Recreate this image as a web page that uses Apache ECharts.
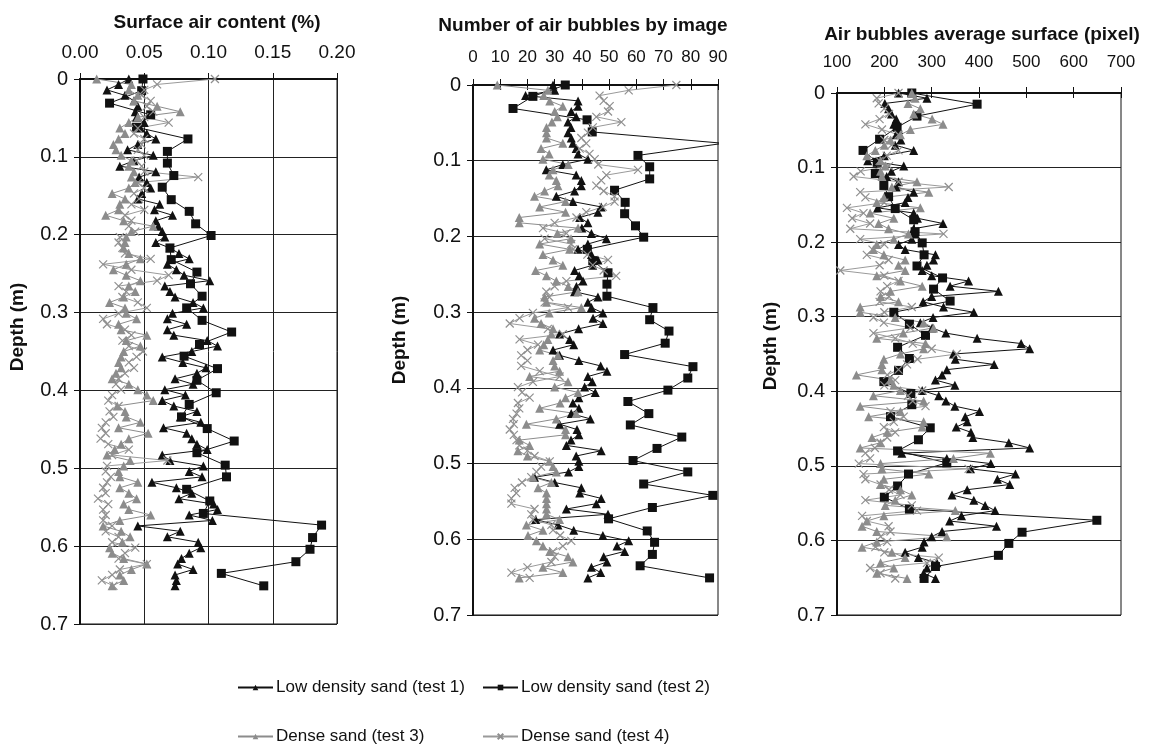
<!DOCTYPE html>
<html>
<head>
<meta charset="utf-8">
<script src="https://cdn.jsdelivr.net/npm/echarts/dist/echarts.min.js"></script>
<style>
  html, body { margin: 0; padding: 0; background: #fff; }
  #main { width: 1155px; height: 751px; }
</style>
</head>
<body>
<div id="main"></div>
<script>
// series names (legend order)
const seriesNames = [
  "Low density sand (test 1)",
  "Low density sand (test 2)",
  "Dense sand (test 3)",
  "Dense sand (test 4)"
];

// depths (m) of the images, tests 1, 3, 4 use the fine step, test 2 the coarse one
const depthFine = [
  0, 0.007, 0.014, 0.021, 0.028, 0.035, 0.042, 0.049, 0.056, 0.063,
  0.07, 0.077, 0.084, 0.091, 0.098, 0.105, 0.112, 0.119, 0.126, 0.133,
  0.14, 0.147, 0.154, 0.161, 0.168, 0.175, 0.182, 0.189, 0.196, 0.203,
  0.21, 0.217, 0.224, 0.231, 0.238, 0.245, 0.252, 0.259, 0.266, 0.273,
  0.28, 0.287, 0.294, 0.301, 0.308, 0.315, 0.322, 0.329, 0.336, 0.343,
  0.35, 0.357, 0.364, 0.371, 0.378, 0.385, 0.392, 0.399, 0.406, 0.413,
  0.42, 0.427, 0.434, 0.441, 0.448, 0.455, 0.462, 0.469, 0.476, 0.483,
  0.49, 0.497, 0.504, 0.511, 0.518, 0.525, 0.532, 0.539, 0.546, 0.553,
  0.56, 0.567, 0.574, 0.581, 0.588, 0.595, 0.602, 0.609, 0.616, 0.623,
  0.63, 0.637, 0.644, 0.651
];
const depthCoarse = [
  0, 0.015, 0.031, 0.046, 0.062, 0.077, 0.093, 0.108, 0.124, 0.139,
  0.155, 0.17, 0.186, 0.201, 0.217, 0.232, 0.248, 0.263, 0.279, 0.294,
  0.31, 0.325, 0.341, 0.356, 0.372, 0.387, 0.403, 0.418, 0.434, 0.449,
  0.465, 0.48, 0.496, 0.511, 0.527, 0.542, 0.558, 0.573, 0.589, 0.604,
  0.62, 0.635, 0.651
];

// Surface air content (%)
const airTest1 = [
  0.038, 0.03, 0.021, 0.035, 0.042, 0.045, 0.043, 0.044, 0.05, 0.047,
  0.052, 0.059, 0.045, 0.037, 0.057, 0.042, 0.031, 0.059, 0.046, 0.052,
  0.055, 0.048, 0.045, 0.062, 0.058, 0.072, 0.059, 0.061, 0.064, 0.066,
  0.059, 0.07, 0.077, 0.085, 0.068, 0.075, 0.081, 0.101, 0.066, 0.07,
  0.074, 0.088, 0.096, 0.072, 0.068, 0.083, 0.068, 0.073, 0.099, 0.107,
  0.087, 0.064, 0.08, 0.098, 0.091, 0.074, 0.088, 0.066, 0.082, 0.064,
  0.073, 0.091, 0.078, 0.094, 0.065, 0.083, 0.087, 0.091, 0.099, 0.064,
  0.07, 0.096, 0.085, 0.095, 0.056, 0.075, 0.087, 0.077, 0.104, 0.107,
  0.085, 0.103, 0.045, 0.078, 0.068, 0.092, 0.094, 0.085, 0.079, 0.076,
  0.088, 0.074, 0.075, 0.074
];
const airTest2 = [
  0.049, 0.048, 0.023, 0.055, 0.044, 0.084, 0.068, 0.068, 0.073, 0.064,
  0.071, 0.085, 0.09, 0.102, 0.07, 0.071, 0.091, 0.086, 0.095, 0.083,
  0.095, 0.118, 0.093, 0.081, 0.107, 0.091, 0.106, 0.085, 0.079, 0.099,
  0.12, 0.091, 0.113, 0.114, 0.083, 0.101, 0.096, 0.188, 0.181, 0.179,
  0.168, 0.11, 0.143
];
const airTest3 = [
  0.013, 0.04, 0.038, 0.045, 0.042, 0.06, 0.078, 0.045, 0.038, 0.031,
  0.035, 0.03, 0.026, 0.028, 0.032, 0.04, 0.038, 0.042, 0.04, 0.043,
  0.038, 0.025, 0.035, 0.031, 0.03, 0.02, 0.034, 0.057, 0.04, 0.036,
  0.035, 0.034, 0.038, 0.047, 0.036, 0.026, 0.036, 0.047, 0.038, 0.043,
  0.034, 0.023, 0.035, 0.036, 0.044, 0.03, 0.032, 0.052, 0.036, 0.047,
  0.034, 0.032, 0.03, 0.032, 0.028, 0.025, 0.038, 0.045, 0.052, 0.057,
  0.029, 0.035, 0.036, 0.047, 0.03, 0.053, 0.038, 0.032, 0.027, 0.021,
  0.039, 0.034, 0.03, 0.031, 0.045, 0.031, 0.038, 0.044, 0.034, 0.038,
  0.055, 0.031, 0.018, 0.032, 0.039, 0.033, 0.023, 0.025, 0.034, 0.052,
  0.04, 0.031, 0.034, 0.025
];
const airTest4 = [
  0.105, 0.06, 0.05, 0.048, 0.055, 0.052, 0.057, 0.05, 0.069, 0.045,
  0.042, 0.05, 0.048, 0.045, 0.05, 0.044, 0.048, 0.05, 0.092, 0.045,
  0.05, 0.042, 0.046, 0.04, 0.05, 0.035, 0.04, 0.038, 0.043, 0.031,
  0.03, 0.033, 0.035, 0.055, 0.018, 0.04, 0.069, 0.06, 0.03, 0.036,
  0.033, 0.045, 0.052, 0.03, 0.018, 0.021, 0.035, 0.04, 0.033, 0.038,
  0.049, 0.044, 0.038, 0.042, 0.035, 0.03, 0.028, 0.032, 0.025, 0.022,
  0.03, 0.023, 0.026, 0.02, 0.017, 0.02, 0.016, 0.022, 0.038, 0.025,
  0.068, 0.021, 0.02, 0.024, 0.021, 0.018, 0.02, 0.014, 0.022, 0.018,
  0.02, 0.018, 0.025, 0.02, 0.03, 0.025, 0.043, 0.035, 0.03, 0.052,
  0.031, 0.025, 0.017, 0.026
];

// Number of air bubbles by image
const countTest1 = [
  29.4, 30, 19.3, 38.6, 38.6, 36.1, 37.9, 34.9, 36, 34.9,
  36.1, 36.7, 37.9, 38.6, 42.2, 33, 26.9, 37.9, 39.8, 39.8,
  37.3, 30.6, 36.7, 47.1, 45.9, 39.2, 42.2, 40, 43.5, 49,
  42.2, 38.6, 43.5, 45.9, 44, 37.3, 39, 40.4, 38, 37.3,
  45.9, 42.2, 43.5, 47.7, 44.1, 47.7, 38.8, 31.8, 35.5, 37,
  29.4, 31.8, 38.9, 46.9, 49.2, 42.2, 43.8, 41, 44.9, 38.9,
  36.7, 38.9, 36.1, 43.1, 31.8, 38.2, 38.9, 36, 34.3, 47.1,
  37.9, 38.9, 38.9, 35.1, 22.6, 30, 39.8, 39.2, 47.1, 45.3,
  34.3, 49.6, 23, 31.2, 37, 47.7, 57.2, 52.9, 55.7, 48,
  49.2, 43.5, 46.9, 42.2
];
const countTest2 = [
  33.9, 22, 14.7, 41.9, 43.8, 92, 60.6, 64.9, 64.9, 52,
  55.9, 55.7, 59.7, 62.7, 42, 44, 49.6, 49.2, 49.2, 66.1,
  64.9, 72, 70.6, 55.7, 80.8, 78.9, 71.6, 56.9, 64.6, 57.8,
  76.7, 67.6, 58.8, 78.9, 62.7, 88.1, 65.9, 49.8, 64, 66.7,
  65.9, 61.4, 86.9
];
const countTest3 = [
  8.9, 27.5, 26, 28.2, 33, 30, 31, 29, 27, 27,
  27, 33, 25, 28, 25.7, 35, 29.4, 28, 30.6, 31.2,
  26.3, 22.6, 34, 24.5, 34, 17, 17, 38.6, 31, 36,
  24.5, 35.5, 25.7, 29.4, 33, 23, 27, 30.6, 35, 38.6,
  26.3, 27, 39.8, 28, 22.6, 25, 29.4, 28.8, 27.5, 26,
  24.5, 31.2, 29.4, 30, 31.8, 20.8, 34.9, 30, 38.6, 34,
  32, 24.5, 37.9, 30.6, 19.6, 34, 34, 17, 20.8, 16.5,
  20, 28, 29.4, 30.6, 22, 28.8, 23.9, 27, 27, 27,
  27, 27, 31.8, 19.6, 25.7, 20.2, 23.3, 25.7, 28.2, 34.9,
  36.7, 25.7, 33, 17
];
const countTest4 = [
  74.7, 57.2, 46.5, 48, 50.2, 49.6, 45.3, 54.5, 44, 42.2,
  39.8, 41.6, 39.2, 42.8, 44.7, 46, 60.6, 49, 47.1, 45.3,
  48, 52, 52, 47.7, 41.6, 38, 30, 25.7, 34.3, 26.3,
  36.1, 36.7, 42, 49.6, 44, 48, 52.6, 34.3, 30, 26.9,
  28, 26.3, 34.9, 22, 17.1, 13.5, 27.5, 33, 17.1, 23.9,
  20, 17.7, 20, 17.7, 24.5, 31.8, 22, 16.5, 18, 20.8,
  16.5, 17, 16, 14.7, 15, 13.5, 15, 16, 17, 20,
  22.6, 28.2, 25, 23.3, 21.4, 18, 15.3, 15.9, 14.1, 14.1,
  22.6, 21.4, 22, 28.8, 29.4, 32, 36.1, 33, 29.4, 30,
  28.8, 20, 14.1, 20.8
];

// Air bubbles average surface (pixel)
const sizeTest1 = [
  230, 290, 201, 209, 215, 225, 220, 230, 225, 235,
  223, 262, 200, 165, 241, 215, 205, 230, 225, 262,
  250, 244, 186, 262, 270, 324, 262, 265, 258, 230,
  244, 308, 304, 290, 280, 300, 378, 339, 441, 300,
  282, 325, 389, 303, 276, 301, 330, 396, 489, 507,
  346, 350, 432, 332, 322, 308, 349, 280, 315, 330,
  349, 401, 371, 375, 352, 383, 387, 463, 507, 237,
  332, 425, 382, 477, 439, 465, 375, 343, 389, 413,
  434, 363, 338, 437, 322, 300, 284, 280, 244, 272,
  311, 290, 283, 308
];
const sizeTest2 = [
  258, 396, 269, 227, 190, 155, 185, 181, 199, 209,
  223, 262, 265, 280, 284, 269, 323, 304, 339, 220,
  253, 287, 228, 253, 230, 199, 256, 258, 213, 297,
  272, 228, 332, 251, 228, 200, 253, 649, 491, 463,
  441, 308, 284
];
const sizeTest3 = [
  258, 265, 250, 276, 262, 301, 324, 255, 234, 213,
  200, 181, 163, 192, 202, 192, 195, 269, 216, 294,
  199, 184, 276, 170, 220, 188, 209, 251, 220, 184,
  177, 199, 244, 230, 244, 184, 234, 280, 213, 192,
  230, 149, 149, 223, 283, 304, 240, 184, 287, 283,
  234, 199, 195, 195, 141, 213, 220, 234, 177, 283,
  149, 234, 167, 283, 280, 206, 174, 192, 149, 424,
  346, 192, 195, 294, 199, 192, 234, 258, 223, 202,
  350, 199, 163, 153, 184, 332, 184, 153, 216, 244,
  192, 220, 184, 248
];
const sizeTest4 = [
  230, 184, 188, 200, 210, 190, 160, 195, 230, 200,
  215, 230, 205, 190, 210, 150, 135, 230, 336, 149,
  160, 200, 121, 156, 132, 170, 128, 325, 149, 200,
  175, 163, 209, 190, 107, 200, 230, 206, 192, 210,
  190, 258, 200, 177, 199, 255, 177, 223, 260, 300,
  353, 270, 248, 230, 206, 223, 200, 280, 250, 260,
  287, 213, 241, 220, 199, 223, 206, 192, 180, 160,
  170, 146, 378, 156, 160, 192, 210, 234, 160, 258,
  269, 153, 163, 209, 213, 192, 206, 181, 200, 315,
  290, 170, 192, 223
];

const chart = echarts.init(document.getElementById("main"), null, { renderer: "canvas" });

const arial = "'Liberation Sans', Arial, sans-serif";
const xMark = "path://M0,0L10,10M10,0L0,10";

// look of each test
const looks = [
  { symbol: "triangle", size: 9, fill: "#111", border: "#111", line: "#111", depth: depthFine },
  { symbol: "rect", size: 9, fill: "#111", border: "#111", line: "#111", depth: depthCoarse },
  { symbol: "triangle", size: 9, fill: "#8c8c8c", border: "#8c8c8c", line: "#8c8c8c", depth: depthFine },
  { symbol: xMark, size: 8, fill: "none", border: "#8f8f8f", line: "#9a9a9a", depth: depthFine }
];

const panels = [
  {
    title: "Surface air content (%)", titleX: 212, titleY: 8,
    box: { left: 80, top: 79, width: 257, height: 545 },
    min: 0, max: 0.2, step: 0.05, vGrid: true,
    size: 19, margin: 17, fmt: (v) => v.toFixed(2),
    nameX: 18, nameY: 327,
    values: [airTest1, airTest2, airTest3, airTest4]
  },
  {
    title: "Number of air bubbles by image", titleX: 578, titleY: 11,
    box: { left: 473, top: 85, width: 245, height: 530 },
    min: 0, max: 90, step: 10, vGrid: false,
    size: 17, margin: 19, fmt: (v) => String(v),
    nameX: 400, nameY: 340,
    values: [countTest1, countTest2, countTest3, countTest4]
  },
  {
    title: "Air bubbles average surface (pixel)", titleX: 977, titleY: 20,
    box: { left: 837, top: 93, width: 284, height: 522 },
    min: 100, max: 700, step: 100, vGrid: false,
    size: 17, margin: 22, fmt: (v) => String(v),
    nameX: 771, nameY: 346,
    values: [sizeTest1, sizeTest2, sizeTest3, sizeTest4]
  }
];

const grids = [];
const xAxes = [];
const yAxes = [];
const titles = [];
const series = [];
const graphics = [];

panels.forEach((p, pi) => {
  grids.push(Object.assign({ show: true, borderColor: "#111", borderWidth: 1, outerBoundsMode: "none" }, p.box));
  titles.push({
    text: p.title, left: p.titleX, top: p.titleY, textAlign: "center",
    textStyle: { fontSize: 19, fontWeight: "bold", fontFamily: arial, color: "#111" }
  });
  xAxes.push({
    gridIndex: pi, type: "value", position: "top",
    min: p.min, max: p.max, interval: p.step,
    axisLine: { show: true, lineStyle: { color: "#111", width: 2 } },
    axisTick: { show: true, length: 6, lineStyle: { color: "#111", width: 1 } },
    axisLabel: { fontSize: p.size, fontFamily: arial, color: "#111", margin: p.margin, formatter: p.fmt },
    splitLine: { show: p.vGrid, lineStyle: { color: "#222", width: 1 } }
  });
  yAxes.push({
    gridIndex: pi, type: "value", inverse: true,
    min: 0, max: 0.7, interval: 0.1,
    axisLine: { show: true, lineStyle: { color: "#111", width: 2 } },
    axisTick: { show: true, length: 6, lineStyle: { color: "#111", width: 1 } },
    axisLabel: { fontSize: 20, fontFamily: arial, color: "#111", margin: 12 },
    splitLine: { show: true, lineStyle: { color: "#222", width: 1 } }
  });
  graphics.push({
    type: "text", x: p.nameX, y: p.nameY, rotation: Math.PI / 2,
    style: { text: "Depth (m)", font: "bold 19px " + arial, fill: "#111", textAlign: "center", textVerticalAlign: "middle" }
  });
  p.values.forEach((vals, ti) => {
    const lk = looks[ti];
    series.push({
      name: seriesNames[ti], type: "line",
      xAxisIndex: pi, yAxisIndex: pi,
      data: vals.map((v, i) => [v, lk.depth[i]]),
      symbol: lk.symbol, symbolSize: lk.size,
      itemStyle: { color: lk.fill, borderColor: lk.border, borderWidth: ti === 3 ? 1.2 : 0 },
      lineStyle: { color: lk.line, width: 1 },
      emphasis: { disabled: true },
      clip: true
    });
  });
});

// short ticks pointing into panels 2 and 3 (crossing the top axis)
[1, 2].forEach((pi) => {
  const p = panels[pi];
  xAxes.push({
    gridIndex: pi, type: "value", position: "bottom", offset: -p.box.height,
    min: p.min, max: p.max, interval: p.step,
    axisLine: { show: false },
    axisTick: { show: true, length: 5, lineStyle: { color: "#111", width: 1 } },
    axisLabel: { show: false },
    splitLine: { show: false }
  });
});

const legendSpots = [
  { left: 232, top: 674 }, { left: 477, top: 674 },
  { left: 232, top: 723 }, { left: 477, top: 723 }
];

const option = {
  backgroundColor: "#fff",
  animation: false,
  title: titles,
  grid: grids,
  xAxis: xAxes,
  yAxis: yAxes,
  legend: seriesNames.map((n, i) => Object.assign({
    data: [n], itemWidth: 35, itemHeight: 7, itemGap: 0,
    textStyle: { fontSize: 17, fontFamily: arial, color: "#111", padding: [0, 0, 0, -2] }
  }, legendSpots[i])),
  graphic: graphics,
  series: series
};

chart.setOption(option);
</script>
</body>
</html>
